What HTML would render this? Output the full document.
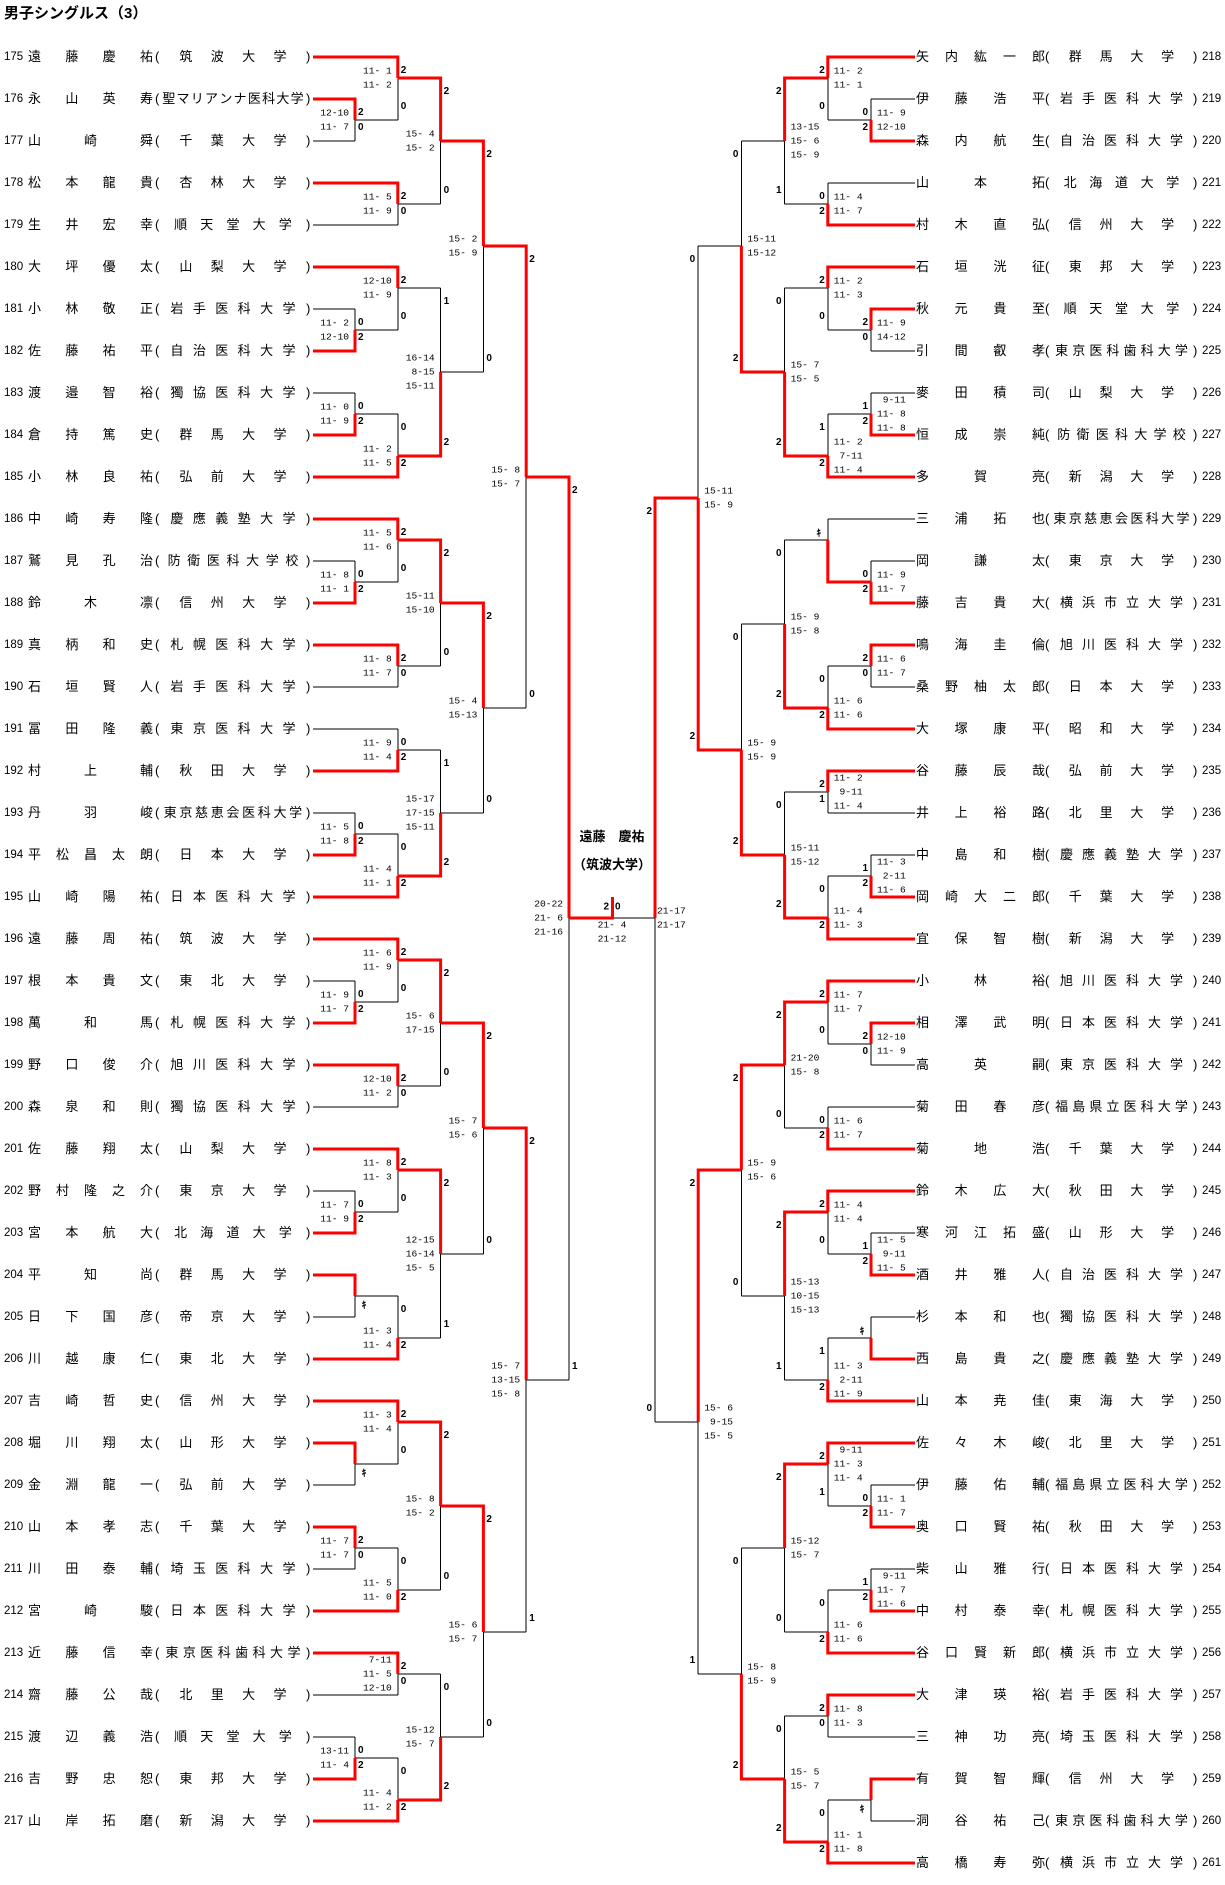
<!DOCTYPE html>
<html><head><meta charset="utf-8">
<style>
html,body{margin:0;padding:0;background:#fff;}
#wrap{position:relative;width:1225px;height:1885px;overflow:hidden;background:#fff;font-family:"Liberation Sans","Noto Sans CJK JP",sans-serif;color:#000;}
svg{position:absolute;left:0;top:0;}
.r{position:absolute;height:18px;line-height:18px;font-size:13px;white-space:nowrap;}
.f{position:absolute;top:0;height:18px;display:flex;}
.sb{justify-content:space-between;}
.se{justify-content:space-evenly;}
.num{position:absolute;top:0;font-size:11.5px;}
.title{position:absolute;left:4px;top:2px;font-size:15px;font-weight:bold;}
.champ{position:absolute;left:560px;width:104px;text-align:center;font-size:13px;font-weight:bold;}
</style></head><body>
<div id="wrap">
<div class="title">男子シングルス（3）</div>
<div class="champ" style="top:826px">遠藤　慶祐</div>
<div class="champ" style="top:854px">（筑波大学）</div>
</div>
<script>
var Lp=[["175","遠藤慶祐","筑波大学"],["176","永山英寿","聖マリアンナ医科大学"],["177","山崎舜","千葉大学"],["178","松本龍貴","杏林大学"],["179","生井宏幸","順天堂大学"],["180","大坪優太","山梨大学"],["181","小林敬正","岩手医科大学"],["182","佐藤祐平","自治医科大学"],["183","渡邉智裕","獨協医科大学"],["184","倉持篤史","群馬大学"],["185","小林良祐","弘前大学"],["186","中崎寿隆","慶應義塾大学"],["187","鷲見孔治","防衛医科大学校"],["188","鈴木凛","信州大学"],["189","真柄和史","札幌医科大学"],["190","石垣賢人","岩手医科大学"],["191","冨田隆義","東京医科大学"],["192","村上輔","秋田大学"],["193","丹羽峻","東京慈恵会医科大学"],["194","平松昌太朗","日本大学"],["195","山崎陽祐","日本医科大学"],["196","遠藤周祐","筑波大学"],["197","根本貴文","東北大学"],["198","萬和馬","札幌医科大学"],["199","野口俊介","旭川医科大学"],["200","森泉和則","獨協医科大学"],["201","佐藤翔太","山梨大学"],["202","野村隆之介","東京大学"],["203","宮本航大","北海道大学"],["204","平知尚","群馬大学"],["205","日下国彦","帝京大学"],["206","川越康仁","東北大学"],["207","吉崎哲史","信州大学"],["208","堀川翔太","山形大学"],["209","金淵龍一","弘前大学"],["210","山本孝志","千葉大学"],["211","川田泰輔","埼玉医科大学"],["212","宮崎駿","日本医科大学"],["213","近藤信幸","東京医科歯科大学"],["214","齋藤公哉","北里大学"],["215","渡辺義浩","順天堂大学"],["216","吉野忠恕","東邦大学"],["217","山岸拓磨","新潟大学"]];
var Rp=[["218","矢内紘一郎","群馬大学"],["219","伊藤浩平","岩手医科大学"],["220","森内航生","自治医科大学"],["221","山本拓","北海道大学"],["222","村木直弘","信州大学"],["223","石垣洸征","東邦大学"],["224","秋元貴至","順天堂大学"],["225","引間叡孝","東京医科歯科大学"],["226","麥田積司","山梨大学"],["227","恒成崇純","防衛医科大学校"],["228","多賀亮","新潟大学"],["229","三浦拓也","東京慈恵会医科大学"],["230","岡謙太","東京大学"],["231","藤吉貴大","横浜市立大学"],["232","鳴海圭倫","旭川医科大学"],["233","桑野柚太郎","日本大学"],["234","大塚康平","昭和大学"],["235","谷藤辰哉","弘前大学"],["236","井上裕路","北里大学"],["237","中島和樹","慶應義塾大学"],["238","岡崎大二郎","千葉大学"],["239","宜保智樹","新潟大学"],["240","小林裕","旭川医科大学"],["241","相澤武明","日本医科大学"],["242","高英嗣","東京医科大学"],["243","菊田春彦","福島県立医科大学"],["244","菊地浩","千葉大学"],["245","鈴木広大","秋田大学"],["246","寒河江拓盛","山形大学"],["247","酒井雅人","自治医科大学"],["248","杉本和也","獨協医科大学"],["249","西島貴之","慶應義塾大学"],["250","山本尭佳","東海大学"],["251","佐々木峻","北里大学"],["252","伊藤佑輔","福島県立医科大学"],["253","奥口賢祐","秋田大学"],["254","柴山雅行","日本医科大学"],["255","中村泰幸","札幌医科大学"],["256","谷口賢新郎","横浜市立大学"],["257","大津瑛裕","岩手医科大学"],["258","三神功亮","埼玉医科大学"],["259","有賀智輝","信州大学"],["260","洞谷祐己","東京医科歯科大学"],["261","高橋寿弥","横浜市立大学"]];
function M(a,b,w,s,n){return {c:[a,b],w:w,s:s?s.split(','):[],n:n};}
// LEFT
var A=M(M(0,M(1,2,0,"12-10,11- 7","2,0"),0,"11- 1,11- 2","2,0"),M(3,4,0,"11- 5,11- 9","2,0"),0,"15- 4,15- 2","2,0");
var B=M(M(5,M(6,7,1,"11- 2,12-10","0,2"),0,"12-10,11- 9","2,0"),M(M(8,9,1,"11- 0,11- 9","0,2"),10,1,"11- 2,11- 5","0,2"),1,"16-14, 8-15,15-11","1,2");
var C=M(M(11,M(12,13,1,"11- 8,11- 1","0,2"),0,"11- 5,11- 6","2,0"),M(14,15,0,"11- 8,11- 7","2,0"),0,"15-11,15-10","2,0");
var D=M(M(16,17,1,"11- 9,11- 4","0,2"),M(M(18,19,1,"11- 5,11- 8","0,2"),20,1,"11- 4,11- 1","0,2"),1,"15-17,17-15,15-11","1,2");
var E=M(M(21,M(22,23,1,"11- 9,11- 7","0,2"),0,"11- 6,11- 9","2,0"),M(24,25,0,"12-10,11- 2","2,0"),0,"15- 6,17-15","2,0");
var F=M(M(26,M(27,28,1,"11- 7,11- 9","0,2"),0,"11- 8,11- 3","2,0"),M(M(29,30,0,"","k"),31,1,"11- 3,11- 4","0,2"),0,"12-15,16-14,15- 5","2,1");
var G=M(M(32,M(33,34,0,"","k"),0,"11- 3,11- 4","2,0"),M(M(35,36,0,"11- 7,11- 7","2,0"),37,1,"11- 5,11- 0","0,2"),0,"15- 8,15- 2","2,0");
var H=M(M(38,39,0," 7-11,11- 5,12-10","2,0"),M(M(40,41,1,"13-11,11- 4","0,2"),42,1,"11- 4,11- 2","0,2"),1,"15-12,15- 7","0,2");
var LS=M(M(M(A,B,0,"15- 2,15- 9","2,0"),M(C,D,0,"15- 4,15-13","2,0"),0,"15- 8,15- 7","2,0"),
         M(M(E,F,0,"15- 7,15- 6","2,0"),M(G,H,0,"15- 6,15- 7","2,0"),0,"15- 7,13-15,15- 8","2,1"),0,"20-22,21- 6,21-16","2,1");
// RIGHT
var a=M(M(0,M(1,2,1,"11- 9,12-10","0,2"),0,"11- 2,11- 1","2,0"),M(3,4,1,"11- 4,11- 7","0,2"),0,"13-15,15- 6,15- 9","2,1");
var b=M(M(5,M(6,7,0,"11- 9,14-12","2,0"),0,"11- 2,11- 3","2,0"),M(M(8,9,1," 9-11,11- 8,11- 8","1,2"),10,1,"11- 2, 7-11,11- 4","1,2"),1,"15- 7,15- 5","0,2");
var c=M(M(11,M(12,13,1,"11- 9,11- 7","0,2"),1,"","k"),M(M(14,15,0,"11- 6,11- 7","2,0"),16,1,"11- 6,11- 6","0,2"),1,"15- 9,15- 8","0,2");
var d=M(M(17,18,0,"11- 2, 9-11,11- 4","2,1"),M(M(19,20,1,"11- 3, 2-11,11- 6","1,2"),21,1,"11- 4,11- 3","0,2"),1,"15-11,15-12","0,2");
var e=M(M(22,M(23,24,0,"12-10,11- 9","2,0"),0,"11- 7,11- 7","2,0"),M(25,26,1,"11- 6,11- 7","0,2"),0,"21-20,15- 8","2,0");
var f=M(M(27,M(28,29,1,"11- 5, 9-11,11- 5","1,2"),0,"11- 4,11- 4","2,0"),M(M(30,31,1,"","k"),32,1,"11- 3, 2-11,11- 9","1,2"),0,"15-13,10-15,15-13","2,1");
var g=M(M(33,M(34,35,1,"11- 1,11- 7","0,2"),0," 9-11,11- 3,11- 4","2,1"),M(M(36,37,1," 9-11,11- 7,11- 6","1,2"),38,1,"11- 6,11- 6","0,2"),0,"15-12,15- 7","2,0");
var h=M(M(39,40,0,"11- 8,11- 3","2,0"),M(M(41,42,0,"","k"),43,1,"11- 1,11- 8","0,2"),1,"15- 5,15- 7","0,2");
var RS=M(M(M(a,b,1,"15-11,15-12","0,2"),M(c,d,1,"15- 9,15- 9","0,2"),1,"15-11,15- 9","0,2"),
         M(M(e,f,0,"15- 9,15- 6","2,0"),M(g,h,1,"15- 8,15- 9","0,2"),0,"15- 6, 9-15,15- 5","2,1"),0,"21-17,21-17","2,0");

function Y(r){return 57+42*r;}
function leaves(t){return typeof t==='number'?1:leaves(t.c[0])+leaves(t.c[1]);}
var blk=[],red=[],txt=[];
function T(x,y,s,anchor,cls){txt.push('<text x="'+x.toFixed(1)+'" y="'+y.toFixed(1)+'" text-anchor="'+anchor+'" class="'+cls+'">'+s+'</text>');}
function lay(t,dep,side,force){
  if(typeof t==='number') return {r:t,x:side<0?313:915};
  var X=side<0?569-42.8*dep:655+43.2*dep;
  var k0=lay(t.c[0],dep+1,side),k1=lay(t.c[1],dep+1,side);
  var mid=(k0.r+k1.r)/2;
  if(Math.abs(mid*2-Math.round(mid*2))>0.01){
    var l0=leaves(t.c[0]),l1=leaves(t.c[1]);
    mid=(l0>l1)?Math.ceil(mid*2)/2:Math.floor(mid*2)/2;
  }
  if(force!==undefined) mid=force;
  var y0=Y(k0.r),y1=Y(k1.r),yo=Y(mid);
  blk.push('M'+k0.x+' '+y0+'H'+X+'M'+k1.x+' '+y1+'H'+X+'M'+X+' '+y0+'V'+y1);
  var kw=t.w?k1:k0;
  red.push('M'+kw.x+' '+Y(kw.r)+'H'+X+'V'+yo);
  var n=t.s.length;
  for(var i=0;i<n;i++){
    var yy=yo+(i-(n-1)/2)*14;
    if(side<0) T(X-6,yy,t.s[i],'end','sc');
    else T(X+(dep===0?2:6),yy,t.s[i],'start','sc');
  }
  if(t.n==='k'){
    var yk=t.w?yo-8:yo+8;
    T(side<0?X+9:X-9,yk,'ｷ','middle','kk');
  } else {
    var p=t.n.split(',');
    if(side<0){T(X+3,y0+13.5,p[0],'start','ct');T(X+3,y1-13.5,p[1],'start','ct');}
    else{T(X-3,y0+13.5,p[0],'end','ct');T(X-3,y1-13.5,p[1],'end','ct');}
  }
  return {r:mid,x:X};
}
lay(LS,0,-1,20.5);
lay(RS,0,1,20.5);
// final
red.push('M569 918H612.5V897');
blk.push('M612 918H655');
T(609,907,'2','end','ct');T(615,907,'0','start','ct');
T(612,925,'21- 4','middle','sc');T(612,939,'21-12','middle','sc');

var svg='<svg width="1225" height="1885" xmlns="http://www.w3.org/2000/svg"><style>.sc{font-family:"Liberation Mono",monospace;font-size:9.6px;dominant-baseline:central;white-space:pre;}.ct{font-family:"Liberation Sans",sans-serif;font-weight:bold;font-size:10px;dominant-baseline:central;}.kk{font-family:"Noto Sans CJK JP",sans-serif;font-size:10px;font-weight:bold;dominant-baseline:central;}</style>'+
'<path d="'+blk.join('')+'" stroke="#000" stroke-width="1" fill="none" shape-rendering="crispEdges"/>'+
'<path d="'+red.join('')+'" stroke="#f00" stroke-width="3" fill="none" stroke-linejoin="miter"/>'+
txt.join('')+'</svg>';
var w=document.getElementById('wrap');
w.insertAdjacentHTML('afterbegin',svg);
function sp(s){return s.split('').map(function(ch){return '<span>'+ch+'</span>';}).join('');}
var html='';
Lp.forEach(function(p,i){
  var y=Y(i)-9;
  html+='<div class="r" style="left:0;top:'+y+'px;width:320px">'+
   '<span class="num" style="left:4px">'+p[0]+'</span>'+
   '<div class="f sb" style="left:28px;width:125px">'+sp(p[1])+'</div>'+
   '<span style="position:absolute;left:155px;top:0">(</span>'+
   '<div class="f se" style="left:161px;width:144px">'+sp(p[2])+'</div>'+
   '<span style="position:absolute;left:306px;top:0">)</span></div>';
});
Rp.forEach(function(p,i){
  var y=Y(i)-9;
  html+='<div class="r" style="left:0;top:'+y+'px;width:1225px">'+
   '<div class="f sb" style="left:916px;width:129px">'+sp(p[1])+'</div>'+
   '<span style="position:absolute;left:1045px;top:0">(</span>'+
   '<div class="f se" style="left:1051px;width:141px">'+sp(p[2])+'</div>'+
   '<span style="position:absolute;left:1193px;top:0">)</span>'+
   '<span class="num" style="left:1202px">'+p[0]+'</span></div>';
});
w.insertAdjacentHTML('beforeend',html);
</script>
</body></html>
